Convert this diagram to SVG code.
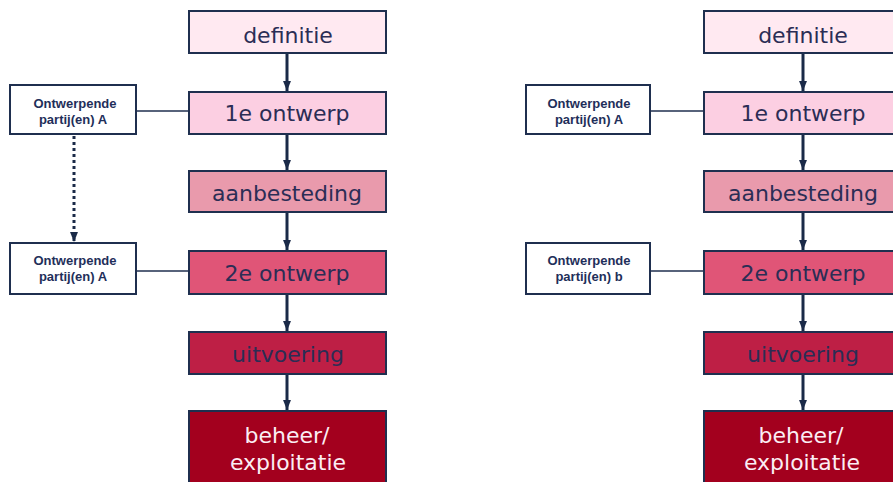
<svg xmlns="http://www.w3.org/2000/svg" width="893" height="482" viewBox="0 0 893 482">
<defs>
<style>
.box{stroke:#1f2f4f;stroke-width:2}
.side{fill:#ffffff;stroke:#1f2f4f;stroke-width:2}
.t{font-family:"DejaVu Sans","Verdana",sans-serif;font-size:22px;fill:#2b2d55;text-anchor:middle}
.tw{fill:#fbeef4}
.s{font-family:"Liberation Sans","Arial",sans-serif;font-size:13px;font-weight:bold;fill:#1f2f5a;text-anchor:middle}
.arr{stroke:#1a2a48;stroke-width:3;fill:none;marker-end:url(#ah)}
.ln{stroke:#1f2f4f;stroke-width:1.5;fill:none}
.dot{stroke:#1a2a48;stroke-width:3;fill:none;stroke-dasharray:3 3;marker-end:url(#ah)}
</style>
<marker id="ah" viewBox="0 0 10 8" refX="10" refY="4" markerWidth="3.3" markerHeight="2.7" orient="auto" markerUnits="strokeWidth">
<path d="M0,0 L10,4 L0,8 Z" fill="#1a2a48"/>
</marker>
</defs>
<g id="connectors">
<line class="arr" x1="287" y1="54" x2="287" y2="91"/>
<line class="arr" x1="287" y1="135" x2="287" y2="170"/>
<line class="arr" x1="287" y1="213" x2="287" y2="250"/>
<line class="arr" x1="287" y1="295" x2="287" y2="331"/>
<line class="arr" x1="287" y1="375" x2="287" y2="410"/>
<line class="ln" x1="136" y1="111" x2="189" y2="111"/>
<line class="ln" x1="136" y1="271" x2="189" y2="271"/>
<line class="dot" x1="74" y1="136" x2="74" y2="242"/>
<line class="arr" x1="803" y1="54" x2="803" y2="91"/>
<line class="arr" x1="803" y1="135" x2="803" y2="170"/>
<line class="arr" x1="803" y1="213" x2="803" y2="250"/>
<line class="arr" x1="803" y1="295" x2="803" y2="331"/>
<line class="arr" x1="803" y1="375" x2="803" y2="410"/>
<line class="ln" x1="650" y1="111" x2="704" y2="111"/>
<line class="ln" x1="650" y1="271" x2="704" y2="271"/>
</g>
<g id="l-definitie"><rect class="box" x="189" y="11" width="197" height="42" fill="#ffe9f1"/><text class="t" x="288" y="43">definitie</text></g>
<g id="l-ontwerp1"><rect class="box" x="189" y="92" width="197" height="42" fill="#fccfe2"/><text class="t" x="287" y="121">1e ontwerp</text></g>
<g id="l-aanbesteding"><rect class="box" x="189" y="171" width="197" height="41" fill="#e99aac"/><text class="t" x="287" y="201">aanbesteding</text></g>
<g id="l-ontwerp2"><rect class="box" x="189" y="251" width="197" height="43" fill="#e05577"/><text class="t" x="287" y="281">2e ontwerp</text></g>
<g id="l-uitvoering"><rect class="box" x="189" y="332" width="197" height="42" fill="#be1f45"/><text class="t" x="288" y="362">uitvoering</text></g>
<g id="l-beheer"><rect class="box" x="189" y="411" width="197" height="80" fill="#a3001e"/><text class="t tw" x="287" y="443">beheer/</text><text class="t tw" x="288" y="470">exploitatie</text></g>
<g id="l-partij1"><rect class="side" x="10" y="85" width="126" height="49"/><text class="s" x="75" y="108">Ontwerpende</text><text class="s" x="73" y="124">partij(en) A</text></g>
<g id="l-partij2"><rect class="side" x="10" y="243" width="126" height="51"/><text class="s" x="75" y="265">Ontwerpende</text><text class="s" x="73" y="281">partij(en) A</text></g>
<g id="r-definitie"><rect class="box" x="704" y="11" width="197" height="42" fill="#ffe9f1"/><text class="t" x="803" y="43">definitie</text></g>
<g id="r-ontwerp1"><rect class="box" x="704" y="92" width="197" height="42" fill="#fccfe2"/><text class="t" x="803" y="121">1e ontwerp</text></g>
<g id="r-aanbesteding"><rect class="box" x="704" y="171" width="197" height="41" fill="#e99aac"/><text class="t" x="803" y="201">aanbesteding</text></g>
<g id="r-ontwerp2"><rect class="box" x="704" y="251" width="197" height="43" fill="#e05577"/><text class="t" x="803" y="281">2e ontwerp</text></g>
<g id="r-uitvoering"><rect class="box" x="704" y="332" width="197" height="42" fill="#be1f45"/><text class="t" x="803" y="362">uitvoering</text></g>
<g id="r-beheer"><rect class="box" x="704" y="411" width="197" height="80" fill="#a3001e"/><text class="t tw" x="801" y="443">beheer/</text><text class="t tw" x="802" y="470">exploitatie</text></g>
<g id="r-partij1"><rect class="side" x="526" y="85" width="124" height="49"/><text class="s" x="589" y="108">Ontwerpende</text><text class="s" x="589" y="124">partij(en) A</text></g>
<g id="r-partij2"><rect class="side" x="526" y="243" width="124" height="51"/><text class="s" x="589" y="265">Ontwerpende</text><text class="s" x="589" y="281">partij(en) b</text></g>
</svg>
